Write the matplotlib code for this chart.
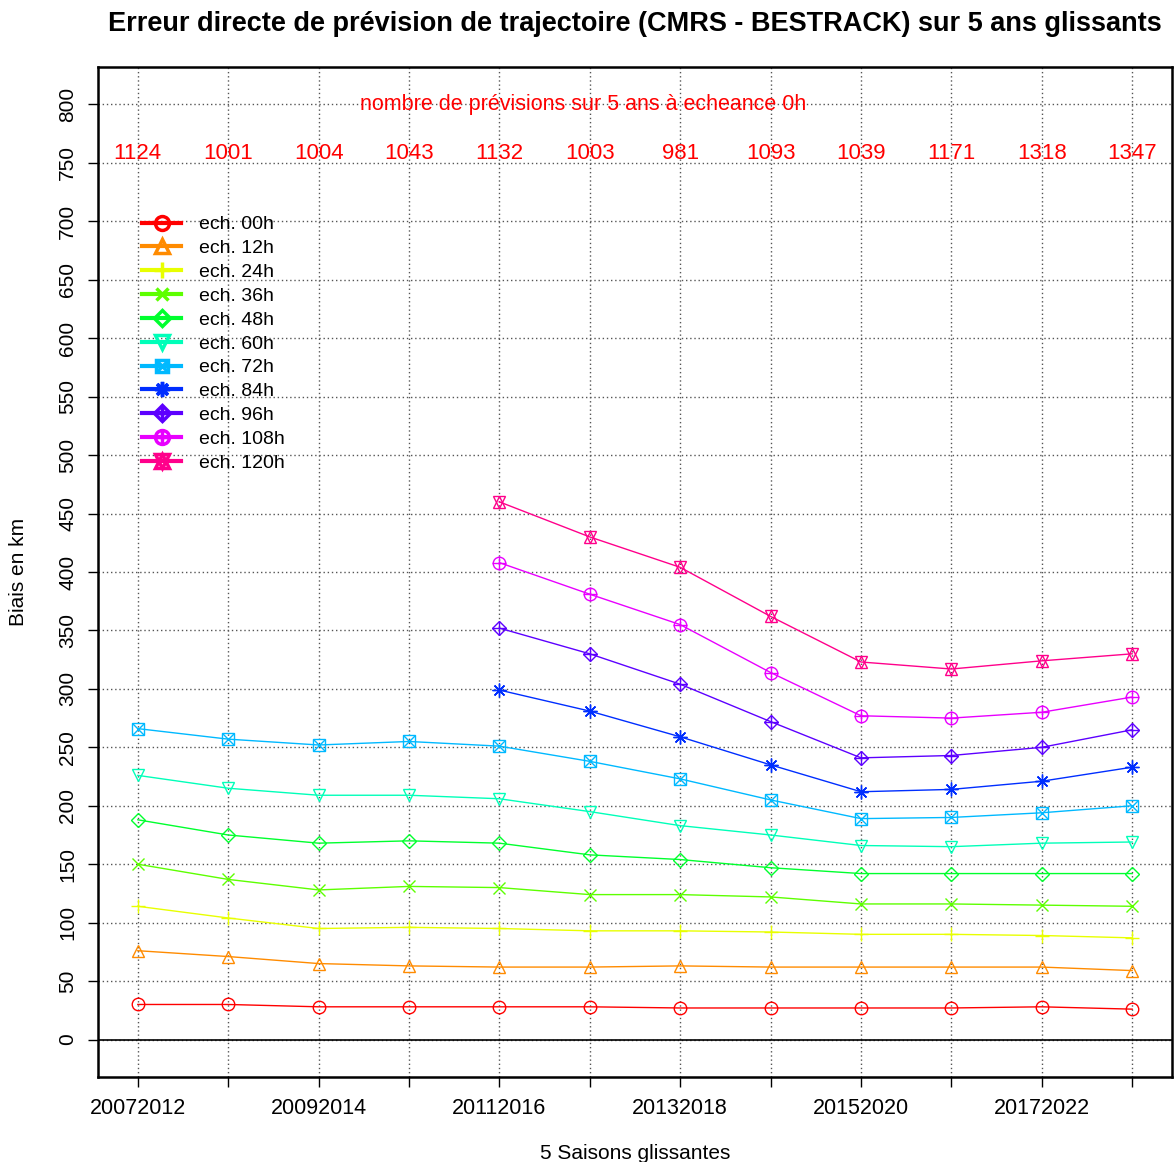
import colorsys
import numpy as np
import matplotlib
matplotlib.use("Agg")
import matplotlib.pyplot as plt
from matplotlib.lines import Line2D

plt.rcParams['font.family'] = ['Liberation Sans', 'DejaVu Sans']

saisons = ["20072012", "20082013", "20092014", "20102015", "20112016", "20122017",
           "20132018", "20142019", "20152020", "20162021", "20172022", "20182023"]
nb_prev = [1124, 1001, 1004, 1043, 1132, 1003, 981, 1093, 1039, 1171, 1318, 1347]

echeances = ["00h", "12h", "24h", "36h", "48h", "60h", "72h", "84h", "96h", "108h", "120h"]
nan = np.nan
err_00 = [30, 30, 28, 28, 28, 28, 27, 27, 27, 27, 28, 26]
err_12 = [76, 71, 65, 63, 62, 62, 63, 62, 62, 62, 62, 59]
err_24 = [114, 104, 95, 96, 95, 93, 93, 92, 90, 90, 89, 87]
err_36 = [150, 137, 128, 131, 130, 124, 124, 122, 116, 116, 115, 114]
err_48 = [188, 175, 168, 170, 168, 158, 154, 147, 142, 142, 142, 142]
err_60 = [226, 215, 209, 209, 206, 195, 183, 175, 166, 165, 168, 169]
err_72 = [266, 257, 252, 255, 251, 238, 223, 205, 189, 190, 194, 200]
err_84 = [nan, nan, nan, nan, 299, 281, 259, 235, 212, 214, 221, 233]
err_96 = [nan, nan, nan, nan, 352, 330, 304, 272, 241, 243, 250, 265]
err_108 = [nan, nan, nan, nan, 408, 381, 355, 314, 277, 275, 280, 293]
err_120 = [nan, nan, nan, nan, 460, 430, 404, 362, 323, 317, 324, 330]
series = [err_00, err_12, err_24, err_36, err_48, err_60, err_72, err_84, err_96, err_108, err_120]

# couleurs type rainbow(11) de R
couleurs = [colorsys.hsv_to_rgb(i / 11, 1, 1) for i in range(11)]

# symboles R pch 1..11 reproduits par superposition de marqueurs
pch = [["o"], ["^"], ["+"], ["x"], ["D"], ["v"], ["s", "x"], [(8, 2, 0)],
       ["D", "+"], ["o", "+"], ["^", "v"]]
taille = {"o": 9, "^": 9, "v": 9, "+": 10, "x": 8, "D": 7, "s": 8, (8, 2, 0): 10}

fig = plt.figure(figsize=(11.75, 11.62), dpi=100)
ax = fig.add_axes([0.0834, 0.0732, 0.914, 0.8691])

x = np.arange(len(saisons))
for i in range(len(series)):
    c = couleurs[i]
    ax.plot(x, series[i], color=c, lw=1, zorder=3)
    for m in pch[i]:
        ax.plot(x, series[i], ls="none", marker=m, ms=taille[m], mfc="none",
                mec=c, mew=1, zorder=4)

ax.set_xlim(-0.44, 11.44)
ax.set_ylim(-32, 832)
ax.axhline(0, color="black", lw=1.2, zorder=2)

ax.set_yticks(np.arange(0, 801, 50))
ax.set_yticklabels([str(v) for v in range(0, 801, 50)], rotation=90, va="center", fontsize=15)
ax.set_xticks(x)
ax.set_xticklabels([s if k % 2 == 0 else "" for k, s in enumerate(saisons)], fontsize=15.5)
ax.tick_params(axis="both", direction="out", length=7, width=1, pad=8)
ax.grid(True, color="#555555", ls=(0, (1, 2)), lw=1)
for sp in ax.spines.values():
    sp.set_linewidth(1.8)

ax.text(4.93, 800, "nombre de prévisions sur 5 ans à echeance 0h", color="red",
        ha="center", va="center", fontsize=15.5)
for k in range(len(nb_prev)):
    ax.text(x[k], 758, str(nb_prev[k]), color="red", ha="center", va="center", fontsize=16)

ax.set_title("Erreur directe de prévision de trajectoire (CMRS - BESTRACK) sur 5 ans glissants",
             fontsize=19.5, fontweight="bold", pad=26)
ax.set_ylabel("Biais en km", fontsize=15, labelpad=22)
ax.set_xlabel("5 Saisons glissantes", fontsize=15, labelpad=18)

handles = []
for i in range(len(series)):
    h = [Line2D([], [], color=couleurs[i], lw=3)]
    for m in pch[i]:
        h.append(Line2D([], [], ls="none", marker=m, ms=taille[m] + 1, mfc="none",
                        mec=couleurs[i], mew=2.5))
    handles.append(tuple(h))
ax.legend(handles, ["ech. " + e for e in echeances], loc="upper left",
          bbox_to_anchor=(0.025, 0.87), frameon=False, fontsize=14,
          handlelength=2.0, labelspacing=0.32, handletextpad=0.9)

fig.savefig("out.png", dpi=100)
